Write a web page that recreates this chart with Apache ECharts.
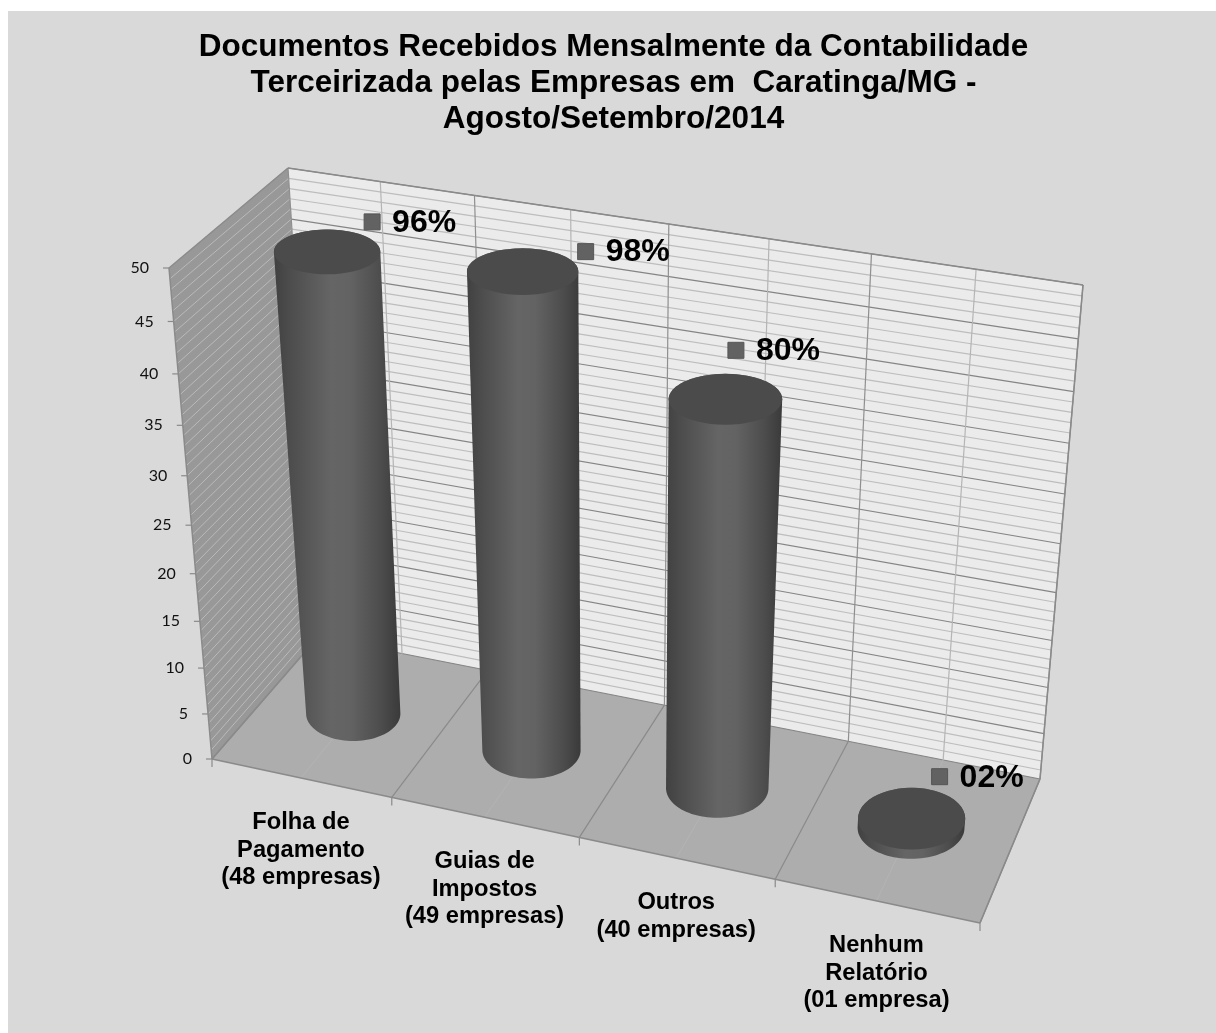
<!DOCTYPE html>
<html><head><meta charset="utf-8">
<style>html,body{margin:0;padding:0;background:#fff}#c{width:1216px;height:1033px}</style>
<script src="https://cdn.jsdelivr.net/npm/echarts@6/dist/echarts.min.js"></script>
</head><body><div id="c"></div>
<script>
// ---- data ----
var categories = ['Folha de\nPagamento\n(48 empresas)', 'Guias de\nImpostos\n(49 empresas)', 'Outros\n(40 empresas)', 'Nenhum\nRelatório\n(01 empresa)'];
var companies = [48, 49, 40, 1];
var percentLabels = ['96%', '98%', '80%', '02%'];
var yTicks = [0, 5, 10, 15, 20, 25, 30, 35, 40, 45, 50];
var yMinorStep = 1;
var titleLines = ['Documentos Recebidos Mensalmente da Contabilidade', 'Terceirizada pelas Empresas em  Caratinga/MG -', 'Agosto/Setembro/2014'];

// ---- layout of the perspective box (reference picture geometry) ----
var floorQuad = [[212, 759], [980, 923], [1040, 779], [318, 637]]; // front-left, front-right, back-right, back-left
var topQuad   = [[169, 268], [1020.5, 404.5], [1083, 285], [288, 168]];
var VERT_K = 1.1;        // perspective foreshortening of the height
var RADIUS = 0.27;       // cylinder radius in category bands
var labelNudge = [[45, -30], [63, -20], [10.5, -49], [28, -42]];

function homography(q) {
  var x0=q[0][0],y0=q[0][1],x1=q[1][0],y1=q[1][1],x2=q[2][0],y2=q[2][1],x3=q[3][0],y3=q[3][1];
  var dx1=x1-x2,dx2=x3-x2,sx=x0-x1+x2-x3,dy1=y1-y2,dy2=y3-y2,sy=y0-y1+y2-y3;
  var det=dx1*dy2-dx2*dy1;
  var g=(sx*dy2-dx2*sy)/det,h=(dx1*sy-sx*dy1)/det;
  var a=x1-x0+g*x1,b=x3-x0+h*x3,d=y1-y0+g*y1,e=y3-y0+h*y3;
  return function(u,v){var w=g*u+h*v+1;return [(a*u+b*v+x0)/w,(d*u+e*v+y0)/w];};
}
var floorH = homography(floorQuad), topH = homography(topQuad);
// u: 0..1 along categories, z: 0 front..1 back, f: 0..1 of value axis
function P(u, z, f) {
  var a = floorH(u, z), b = topH(u, z);
  var t = f / (f + VERT_K * (1 - f));
  return [a[0] + (b[0] - a[0]) * t, a[1] + (b[1] - a[1]) * t];
}
function fracs(api, params, cat, val) {
  var cs = params.coordSys, p = api.coord([cat, val]);
  return [(p[0] - cs.x) / cs.width, 1 - (p[1] - cs.y) / cs.height];
}
function line(a, b, color, w) {
  return {type:'line', shape:{x1:a[0],y1:a[1],x2:b[0],y2:b[1]}, style:{stroke:color,lineWidth:w}, silent:true};
}
function poly(pts, fill) { return {type:'polygon', shape:{points:pts}, style:{fill:fill}, silent:true}; }

function renderBox(params, api) {
  var ch = [], cs = params.coordSys;
  // walls
  ch.push(poly([P(0,0,0),P(0,1,0),P(0,1,1),P(0,0,1)], '#989898'));
  ch.push(poly([P(0,1,0),P(1,1,0),P(1,1,1),P(0,1,1)], '#ebebeb'));
  ch.push(poly([P(0,0,0),P(1,0,0),P(1,1,0),P(0,1,0)], '#adadad'));
  // value gridlines
  for (var v = 0; v <= 50; v += yMinorStep) {
    var f = 1 - (api.coord([0, v])[1] - cs.y) / cs.height;
    var major = v % 5 === 0;
    ch.push(line(P(0,1,f), P(1,1,f), major ? '#858585' : '#bdbdbd', 1.2));
    ch.push(line(P(0,0,f), P(0,1,f), '#bababa', 1));
  }
  // category gridlines (every half band)
  for (var i = 0; i <= categories.length * 2; i++) {
    var u = i / (categories.length * 2), even = i % 2 === 0;
    ch.push(line(P(u,1,0), P(u,1,1), even ? '#8f8f8f' : '#b5b5b5', 1.2));
    ch.push(line(P(u,0,0), P(u,1,0), even ? '#8a8a8a' : '#b4b4b4', even ? 1.2 : 1));
    if (even) { var q = P(u,0,0); ch.push(line(q, [q[0], q[1] + 8], '#8a8a8a', 1.2)); }
  }
  // edges
  [[[0,0,0],[1,0,0]],[[1,0,0],[1,1,0]],[[0,0,0],[0,0,1]],[[0,0,1],[0,1,1]],[[0,1,1],[1,1,1]],[[1,1,1],[1,1,0]],[[0,0,0],[0,1,0]]].forEach(function (e) {
    ch.push(line(P.apply(null,e[0]), P.apply(null,e[1]), '#8a8a8a', 1.5));
  });
  // value axis ticks and labels
  yTicks.forEach(function (v) {
    var f = 1 - (api.coord([0, v])[1] - cs.y) / cs.height, q = P(0,0,f);
    ch.push(line([q[0]-6, q[1]], q, '#8a8a8a', 1.2));
    ch.push({type:'text', silent:true, style:{x:q[0]-20, y:q[1], text:String(v), align:'right', verticalAlign:'middle', fill:'#111', font:'16px Lato, "Open Sans", sans-serif'}});
  });
  // category labels
  categories.forEach(function (c, idx) {
    var q = P((idx + .5) / categories.length, 0, 0);
    ch.push({type:'text', silent:true, style:{x:q[0], y:q[1] + 31, text:c, align:'center', verticalAlign:'top', fill:'#000', font:'bold 23.7px "Liberation Sans", Arial, sans-serif', lineHeight:27.5}});
  });
  return {type:'group', children:ch};
}

function ellipsePts(c, rx, ry, a0, a1) {
  var pts = [], n = 48;
  for (var i = 0; i <= n; i++) { var a = a0 + (a1 - a0) * i / n; pts.push([c[0] + rx * Math.cos(a), c[1] + ry * Math.sin(a)]); }
  return pts;
}
function ring(u, f, du) {
  var c = P(u, .5, f), l = P(u - du, .5, f), r = P(u + du, .5, f);
  var rx = Math.abs(r[0] - l[0]) / 2 * (1 + 0.03 * f);
  return {c:c, rx:rx, ry:rx * (0.58 - 0.165 * f)};
}
function renderColumn(params, api) {
  var idx = api.value(0), val = api.value(1), cs = params.coordSys;
  var base = fracs(api, params, idx, 0), top = fracs(api, params, idx, val);
  var du = RADIUS * api.size([1, 0])[0] / cs.width;
  var b = ring(base[0], base[1], du), t = ring(top[0], top[1], du);
  var body = ellipsePts(b.c, b.rx, b.ry, Math.PI, 0).concat(ellipsePts(t.c, t.rx, t.ry, 0, -Math.PI));
  var grad = new echarts.graphic.LinearGradient(0, 0, 1, 0, [
    {offset:0, color:'#414141'}, {offset:.12, color:'#4c4c4c'}, {offset:.45, color:'#656565'},
    {offset:.6, color:'#636363'}, {offset:.85, color:'#4c4c4c'}, {offset:1, color:'#3a3a3a'}]);
  var n = labelNudge[idx], m = [t.c[0] + n[0], t.c[1] + n[1]];
  return {type:'group', children:[
    poly(body, grad),
    poly(ellipsePts(t.c, t.rx, t.ry, 0, Math.PI * 2), '#4b4b4b'),
    {type:'rect', silent:true, shape:{x:m[0]-8, y:m[1]-8, width:16, height:16}, style:{fill:'#626262', stroke:'#555', lineWidth:1}},
    {type:'text', silent:true, style:{x:m[0]+20, y:m[1]+1, text:percentLabels[idx], align:'left', verticalAlign:'middle', fill:'#000', font:'bold 32px "Liberation Sans", Arial, sans-serif'}}
  ]};
}

var chart = echarts.init(document.getElementById('c'), null, {renderer:'canvas'});
chart.setOption({
  animation:false,
  backgroundColor:'#fff',
  graphic:[{type:'rect', silent:true, z:-10, shape:{x:8, y:11, width:1208, height:1022}, style:{fill:'#d9d9d9'}}],
  title:{text:titleLines.join('\n'), left:608.5, top:24, textAlign:'center',
    textStyle:{fontFamily:'"Liberation Sans", Arial, sans-serif', fontWeight:'bold', fontSize:31.5, lineHeight:36, color:'#000'}},
  grid:{left:200, right:200, top:200, bottom:200},
  xAxis:{type:'category', data:categories, show:false},
  yAxis:{type:'value', min:0, max:50, interval:5, show:false},
  series:[
    {type:'custom', name:'box', coordinateSystem:'cartesian2d', data:[[0,0]], renderItem:renderBox, silent:true, z:1},
    {type:'custom', name:'Empresas', coordinateSystem:'cartesian2d', data:companies.map(function(v,i){return [i,v];}), encode:{x:0,y:1}, renderItem:renderColumn, silent:true, z:2}
  ]
});
</script></body></html>
